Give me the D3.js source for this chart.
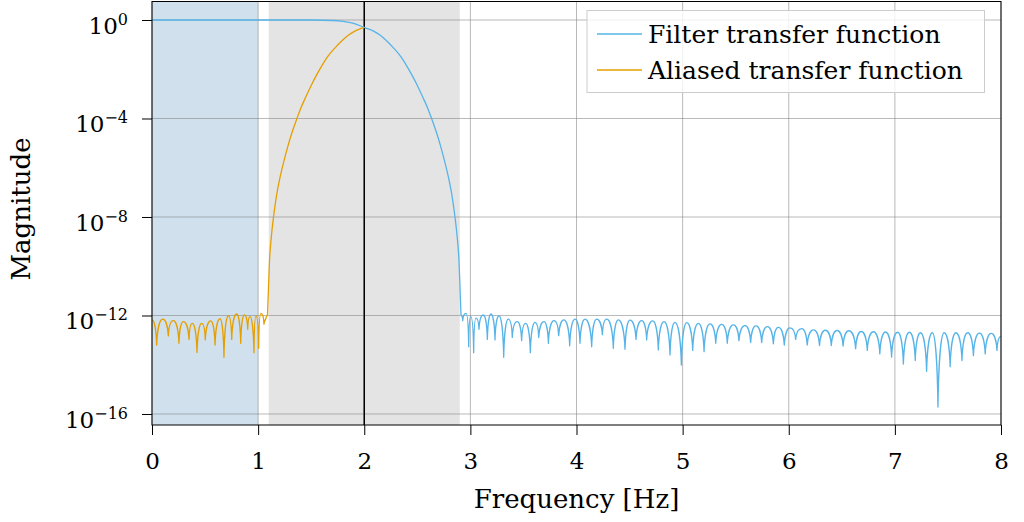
<!DOCTYPE html>
<html>
<head>
<meta charset="utf-8">
<script src="https://cdn.jsdelivr.net/npm/d3@7"></script>
<style>
  html, body { margin: 0; padding: 0; background: #fff; }
  svg { display: block; }
  text { font-family: "DejaVu Serif", "Liberation Serif", serif; fill: #000; }
</style>
</head>
<body>
<svg id="chart" width="1024" height="522"></svg>
<script>
// Frequency grid and log10 magnitudes of the anti-aliasing filter response
const filterFreq = [
  0.0, 1.0, 1.5, 1.7, 1.8, 1.9, 2.0, 2.05, 2.10, 2.15, 2.20, 2.275, 2.35, 2.40, 2.45, 2.50, 2.55, 2.60, 2.636, 2.68,
  2.72, 2.76, 2.80, 2.83, 2.855, 2.875, 2.893, 2.905, 2.912,
  2.928, 2.959, 2.984, 3.003, 3.031, 3.053, 3.081, 3.122, 3.160, 3.194, 3.232, 3.270, 3.314, 3.357, 3.395, 3.442,
  3.483, 3.521, 3.565, 3.609, 3.644, 3.694, 3.735, 3.788, 3.832, 3.882, 3.936, 3.986, 4.033, 4.080, 4.143, 4.190,
  4.244, 4.285, 4.347, 4.394, 4.457, 4.504, 4.561, 4.614, 4.661, 4.718, 4.771, 4.825, 4.881, 4.928, 4.988, 5.038,
  5.095, 5.148, 5.202, 5.258, 5.312, 5.368, 5.421, 5.478, 5.531, 5.588, 5.641, 5.691, 5.745, 5.798, 5.855, 5.902,
  5.958, 6.012, 6.065, 6.122, 6.174, 6.233, 6.290, 6.345, 6.401, 6.455, 6.512, 6.566, 6.630, 6.684, 6.740, 6.798,
  6.858, 6.912, 6.969, 7.026, 7.080, 7.137, 7.192, 7.241, 7.299, 7.353, 7.406, 7.464, 7.521, 7.575, 7.632, 7.686,
  7.740, 7.797, 7.851, 7.908, 7.962, 8.0
];
const filterLogMag = [
  0.0, 0.0, 0.0, -0.02, -0.06, -0.14, -0.30, -0.38, -0.48, -0.62, -0.80, -1.13, -1.52, -1.86, -2.24, -2.66, -3.12, -3.60, -4.02, -4.56,
  -5.13, -5.78, -6.52, -7.22, -8.0, -8.78, -9.8, -11.2, -12.0,
  -12.21, -11.91, -13.27, -12.05, -13.51, -12.11, -12.56, -11.98, -12.97, -11.94, -12.99, -12.01, -13.70, -12.15, -12.89, -12.25,
  -13.02, -12.32, -13.51, -12.28, -12.89, -12.25, -13.13, -12.21, -12.82, -12.18, -13.23, -12.15, -13.13, -12.15, -13.27, -12.15,
  -12.78, -12.15, -13.33, -12.18, -13.37, -12.19, -12.97, -12.21, -12.99, -12.22, -13.40, -12.25, -13.60, -12.28, -14.01, -12.29,
  -13.42, -12.32, -13.47, -12.34, -13.13, -12.36, -13.13, -12.38, -13.02, -12.41, -13.10, -12.42, -13.10, -12.45, -13.15, -12.48,
  -13.20, -12.50, -12.97, -12.53, -13.20, -12.58, -13.22, -12.60, -13.22, -12.61, -13.24, -12.62, -13.35, -12.65, -13.42, -12.66,
  -13.56, -12.67, -13.69, -12.68, -13.97, -12.68, -13.83, -12.70, -14.27, -12.70, -15.72, -12.70, -14.08, -12.70, -13.83, -12.70,
  -13.63, -12.72, -13.56, -12.73, -13.42, -12.85
];

// Response folded back into the band below the Nyquist frequency
const aliasedFreq = [
  0.0, 0.044, 0.100, 0.154, 0.201, 0.254, 0.295, 0.349, 0.380, 0.424, 0.468, 0.502, 0.553, 0.594, 0.641, 0.678,
  0.719, 0.751, 0.798, 0.836, 0.870, 0.902, 0.923, 0.961, 0.980, 1.005, 1.027, 1.055, 1.071, 1.088,
  1.095, 1.107, 1.125, 1.145, 1.17, 1.20, 1.24, 1.28, 1.32, 1.364, 1.40, 1.45, 1.50, 1.55, 1.60, 1.65,
  1.725, 1.80, 1.85, 1.90, 1.95, 2.0
];
const aliasedLogMag = [
  -12.18, -13.20, -12.15, -12.83, -12.21, -13.13, -12.25, -12.97, -12.32, -13.50, -12.32, -12.99, -12.22, -13.20, -12.13, -13.70,
  -12.01, -12.97, -11.94, -13.13, -11.98, -12.56, -12.05, -13.51, -12.02, -13.33, -11.91, -12.35, -12.14, -12.0,
  -11.2, -9.8, -8.78, -8.0, -7.22, -6.52, -5.78, -5.13, -4.56, -4.02, -3.60, -3.12, -2.66, -2.24, -1.86, -1.52,
  -1.13, -0.80, -0.62, -0.48, -0.38, -0.30
];

// Frequencies where the stop-band floor meets the steep skirt of each curve
const filterFloorStart = 2.912;
const aliasedFloorEnd = 1.088;

// Bands: passband (blue) and transition band (grey), plus the Nyquist marker
const passBand = [0, 1.0];
const transitionBand = [1.1, 2.9];
const nyquist = 2.0;

const xTicks = [0, 1, 2, 3, 4, 5, 6, 7, 8];
const yTickExponents = [0, -4, -8, -12, -16];

const seriesNames = ["Filter transfer function", "Aliased transfer function"];
const seriesColors = ["#56b4e9", "#e69f00"];

const xLabel = "Frequency [Hz]";
const yLabel = "Magnitude";

// ---- layout ----
const plot = { left: 152, right: 1001, top: 1.5, bottom: 425 };
const svg = d3.select("#chart");

const x = d3.scaleLinear().domain([0, 8]).range([plot.left, plot.right]);
const y = d3.scaleLog().domain([Math.pow(10, -16.447), Math.pow(10, 0.751)]).range([plot.bottom, plot.top]);

svg.append("defs").append("clipPath").attr("id", "plot-clip")
  .append("rect")
  .attr("x", plot.left).attr("y", plot.top)
  .attr("width", plot.right - plot.left).attr("height", plot.bottom - plot.top);

// shaded bands
svg.append("rect")
  .attr("x", x(passBand[0])).attr("y", plot.top)
  .attr("width", x(passBand[1]) - x(passBand[0])).attr("height", plot.bottom - plot.top)
  .attr("fill", "#d0e1ed");
svg.append("rect")
  .attr("x", x(transitionBand[0])).attr("y", plot.top)
  .attr("width", x(transitionBand[1]) - x(transitionBand[0])).attr("height", plot.bottom - plot.top)
  .attr("fill", "#e4e4e4");

// grid
const grid = svg.append("g").attr("stroke", "#808080").attr("stroke-opacity", 0.55).attr("stroke-width", 1);
grid.selectAll(".vg").data(xTicks).join("line")
  .attr("x1", d => x(d)).attr("x2", d => x(d))
  .attr("y1", plot.top).attr("y2", plot.bottom);
grid.selectAll(".hg").data(yTickExponents).join("line")
  .attr("x1", plot.left).attr("x2", plot.right)
  .attr("y1", d => y(Math.pow(10, d))).attr("y2", d => y(Math.pow(10, d)));

// Nyquist line
svg.append("line")
  .attr("x1", x(nyquist)).attr("x2", x(nyquist))
  .attr("y1", plot.top).attr("y2", plot.bottom)
  .attr("stroke", "#000").attr("stroke-width", 1.5);

// Curve for the ripple floor: rounded lobes between sharp nulls.
function lobeCurve(context) {
  let pts;
  return {
    areaStart() {}, areaEnd() {},
    lineStart() { pts = []; },
    point(px, py) { pts.push([+px, +py]); },
    lineEnd() {
      const n = pts.length;
      if (!n) return;
      const kind = pts.map((p, i) => {
        const a = pts[i - 1], b = pts[i + 1];
        const ya = a ? a[1] : b[1];
        const yb = b ? b[1] : a[1];
        if (p[1] >= ya && p[1] >= yb) return "null";
        if (p[1] <= ya && p[1] <= yb) return "lobe";
        return "mid";
      });
      context.moveTo(pts[0][0], pts[0][1]);
      for (let i = 0; i < n - 1; i++) {
        const [x0, y0] = pts[i], [x1, y1] = pts[i + 1];
        const dx = x1 - x0, dy = y1 - y0;
        let c1, c2;
        if (kind[i] === "null") c1 = [x0 + 0.1 * dx, y0 + 0.6 * dy];
        else if (kind[i] === "lobe") c1 = [x0 + 0.5 * dx, y0];
        else c1 = [x0 + dx / 3, y0 + dy / 3];
        if (kind[i + 1] === "null") c2 = [x1 - 0.1 * dx, y1 - 0.6 * dy];
        else if (kind[i + 1] === "lobe") c2 = [x1 - 0.5 * dx, y1];
        else c2 = [x1 - dx / 3, y1 - dy / 3];
        context.bezierCurveTo(c1[0], c1[1], c2[0], c2[1], x1, y1);
      }
    }
  };
}

const smoothLine = d3.line()
  .x(d => x(d[0]))
  .y(d => y(Math.pow(10, d[1])))
  .curve(d3.curveMonotoneX);
const lobeLine = d3.line()
  .x(d => x(d[0]))
  .y(d => y(Math.pow(10, d[1])))
  .curve(lobeCurve);

const filterData = filterFreq.map((f, i) => [f, filterLogMag[i]]);
const aliasedData = aliasedFreq.map((f, i) => [f, aliasedLogMag[i]]);

const curves = svg.append("g").attr("clip-path", "url(#plot-clip)")
  .attr("fill", "none").attr("stroke-width", 1.3).attr("stroke-linejoin", "round");

function drawSeries(segments, color) {
  segments.forEach(([data, gen]) => {
    curves.append("path").datum(data).attr("d", gen).attr("stroke", color);
  });
}
drawSeries([
  [filterData.filter(d => d[0] <= filterFloorStart), smoothLine],
  [filterData.filter(d => d[0] >= filterFloorStart), lobeLine]
], seriesColors[0]);
drawSeries([
  [aliasedData.filter(d => d[0] <= aliasedFloorEnd), lobeLine],
  [aliasedData.filter(d => d[0] >= aliasedFloorEnd), smoothLine]
], seriesColors[1]);

// axes
const xAxis = d3.axisBottom(x).tickValues(xTicks).tickSize(10).tickSizeOuter(0).tickFormat(d3.format("d"));
const gx = svg.append("g").attr("transform", `translate(0,${plot.bottom})`).call(xAxis);
gx.select(".domain").remove();
gx.selectAll(".tick line").attr("stroke", "#000");
gx.selectAll(".tick text")
  .attr("font-family", null).attr("font-size", 23)
  .attr("dy", null).attr("y", 43.5);

const yAxis = d3.axisLeft(y).tickValues(yTickExponents.map(e => Math.pow(10, e)))
  .tickSize(10).tickSizeOuter(0).tickFormat(() => "");
const gy = svg.append("g").attr("transform", `translate(${plot.left},0)`).call(yAxis);
gy.select(".domain").remove();
gy.selectAll(".tick line").attr("stroke", "#000");
gy.selectAll(".tick text").remove();
gy.selectAll(".tick").each(function (d) {
  const e = Math.round(Math.log10(d));
  const t = d3.select(this).append("text")
    .attr("x", -24).attr("y", 13.5)
    .attr("text-anchor", "end")
    .attr("font-size", 23);
  t.append("tspan").text("10");
  t.append("tspan").attr("dy", -9).attr("font-size", 16).text(e < 0 ? "\u2212" + (-e) : String(e));
});

// frame
svg.append("rect")
  .attr("x", plot.left).attr("y", plot.top)
  .attr("width", plot.right - plot.left).attr("height", plot.bottom - plot.top)
  .attr("fill", "none").attr("stroke", "#000").attr("stroke-width", 1);

// axis titles
svg.append("text")
  .attr("x", (plot.left + plot.right) / 2).attr("y", 508)
  .attr("text-anchor", "middle").attr("font-size", 26)
  .text(xLabel);
svg.append("text")
  .attr("transform", `translate(30,209) rotate(-90)`)
  .attr("text-anchor", "middle").attr("font-size", 26)
  .text(yLabel);

// legend
const legend = svg.append("g");
legend.append("rect")
  .attr("x", 587).attr("y", 10.5).attr("width", 397.5).attr("height", 82)
  .attr("fill", "#fff").attr("fill-opacity", 0.8)
  .attr("stroke", "#cccccc").attr("stroke-width", 1);
seriesNames.forEach((name, i) => {
  const yy = 34 + i * 36;
  legend.append("line")
    .attr("x1", 597).attr("x2", 642).attr("y1", yy).attr("y2", yy)
    .attr("stroke", seriesColors[i]).attr("stroke-width", 1.3);
  legend.append("text")
    .attr("x", 648).attr("y", yy + 8.5)
    .attr("font-size", 25)
    .text(name);
});
</script>
</body>
</html>
